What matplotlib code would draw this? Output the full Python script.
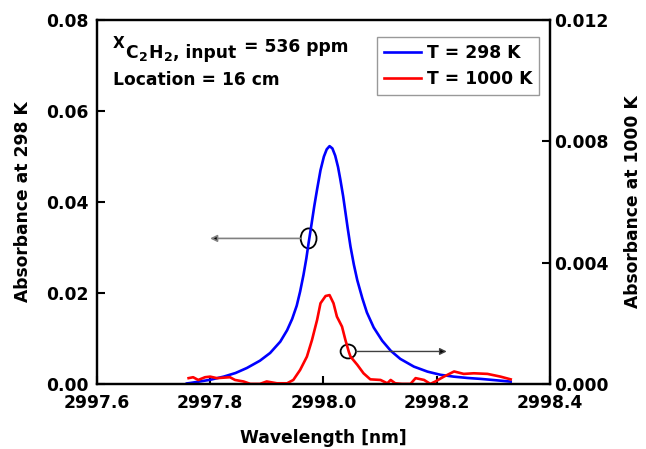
import matplotlib
matplotlib.use("Agg")
import matplotlib.pyplot as plt
from matplotlib.patches import Ellipse

plt.rcParams['font.family'] = ['DejaVu Sans']
plt.rcParams['font.weight'] = 'bold'

# absorbance profile at 298 K (left axis)
wl_298 = [2997.759, 2997.765, 2997.800, 2997.824, 2997.845, 2997.865, 2997.888,
          2997.906, 2997.924, 2997.936, 2997.945, 2997.953, 2997.959, 2997.965,
          2997.970, 2997.974, 2997.979, 2997.984, 2997.989, 2997.995, 2998.001,
          2998.006, 2998.011, 2998.016, 2998.021, 2998.026, 2998.030, 2998.035,
          2998.039, 2998.043, 2998.048, 2998.054, 2998.060, 2998.069, 2998.077,
          2998.089, 2998.104, 2998.119, 2998.136, 2998.160, 2998.184, 2998.207,
          2998.230, 2998.255, 2998.278, 2998.305, 2998.331]
abs_298 = [0.0001, 0.0002, 0.0009, 0.0016, 0.0024, 0.0035, 0.0051,
           0.0068, 0.0093, 0.0118, 0.0143, 0.0172, 0.0203, 0.0240,
           0.0276, 0.0310, 0.0350, 0.0391, 0.0428, 0.0470, 0.0500,
           0.0516, 0.0523, 0.0518, 0.0502, 0.0477, 0.0450, 0.0413,
           0.0378, 0.0343, 0.0302, 0.0262, 0.0228, 0.0188, 0.0157,
           0.0124, 0.0095, 0.0073, 0.0055, 0.0038, 0.0027, 0.0020,
           0.0016, 0.0013, 0.0011, 0.0008, 0.0005]

# absorbance profile at 1000 K (right axis)
wl_1000 = [2997.762, 2997.770, 2997.779, 2997.791, 2997.800, 2997.812, 2997.835,
           2997.844, 2997.859, 2997.871, 2997.888, 2997.900, 2997.918, 2997.936,
           2997.947, 2997.959, 2997.971, 2997.980, 2997.989, 2997.995, 2998.004,
           2998.011, 2998.018, 2998.024, 2998.033, 2998.039, 2998.045, 2998.048,
           2998.060, 2998.071, 2998.083, 2998.101, 2998.113, 2998.119, 2998.127,
           2998.139, 2998.154, 2998.163, 2998.178, 2998.189, 2998.198, 2998.213,
           2998.231, 2998.248, 2998.266, 2998.290, 2998.313, 2998.331]
abs_1000 = [0.00019, 0.00022, 0.00013, 0.00022, 0.00024, 0.00019, 0.00022,
            0.00013, 0.00008, 0.0, 0.0, 0.00008, 0.00002, 0.00002,
            0.00013, 0.00046, 0.00090, 0.00145, 0.00211, 0.00266, 0.00290,
            0.00293, 0.00266, 0.00222, 0.00189, 0.00145, 0.00106, 0.00090,
            0.00063, 0.00035, 0.00015, 0.00013, 0.00002, 0.00013, 0.00002,
            0.0, 0.0, 0.00019, 0.00013, 0.0, 0.00008, 0.00024,
            0.00041, 0.00033, 0.00035, 0.00033, 0.00024, 0.00015]

x_ticks = [2997.6, 2997.8, 2998.0, 2998.2, 2998.4]
left_ticks = [0.00, 0.02, 0.04, 0.06, 0.08]
right_ticks = [0.000, 0.004, 0.008, 0.012]

FS = 12.3

fig = plt.figure(figsize=(6.46, 4.49), dpi=100)
ax = fig.add_axes([0.150, 0.145, 0.701, 0.810])
ax2 = ax.twinx()

l1, = ax.plot(wl_298, abs_298, color='#0000ff', lw=1.9, label='T = 298 K')
l2, = ax2.plot(wl_1000, abs_1000, color='#ff0000', lw=1.9, label='T = 1000 K')

ax.set_xlim(2997.6, 2998.4)
ax.set_ylim(0, 0.08)
ax2.set_ylim(0, 0.012)
ax.set_xticks(x_ticks)
ax.set_xticklabels(['%.1f' % v for v in x_ticks])
ax.set_yticks(left_ticks)
ax.set_yticklabels(['%.2f' % v for v in left_ticks])
ax2.set_yticks(right_ticks)
ax2.set_yticklabels(['%.3f' % v for v in right_ticks])

ax.tick_params(axis='x', direction='in', length=6, width=1.5, pad=7, labelsize=FS)
ax.tick_params(axis='y', direction='in', length=6, width=1.5, pad=6, labelsize=FS)
ax2.tick_params(axis='y', direction='in', length=6, width=1.5, pad=3.5, labelsize=FS)
for a in (ax, ax2):
    for s in a.spines.values():
        s.set_linewidth(1.6)

ax.set_xlabel('Wavelength [nm]', fontsize=FS, fontweight='bold')
ax.set_ylabel('Absorbance at 298 K', fontsize=FS, fontweight='bold')
ax2.set_ylabel('Absorbance at 1000 K', fontsize=FS, fontweight='bold')
ax.xaxis.set_label_coords(0.5, -0.123)
ax.yaxis.set_label_coords(-0.1435, 0.5)
ax2.yaxis.set_label_coords(1.163, 0.5)

# mole fraction label, built piece by piece so the subscripts keep their size
pieces = [('X', 11.0, 0.923), ('C', FS, 0.8956), ('2', 9.0, 0.888),
          ('H', FS, 0.8956), ('2', 9.0, 0.888), (', input', FS, 0.8956),
          (' = 536 ppm', FS, 0.912)]
prev = ax.text(0.0353, pieces[0][2], pieces[0][0], transform=ax.transAxes,
               fontsize=pieces[0][1], fontweight='bold', va='baseline')
for s, size, yb in pieces[1:]:
    prev = ax.annotate(s, xy=(1, yb), xycoords=(prev, ax.transAxes),
                       xytext=(0.6, 0), textcoords='offset points',
                       fontsize=size, fontweight='bold', va='baseline', ha='left')
ax.text(0.0353, (384 - 85) / 364, 'Location = 16 cm', transform=ax.transAxes,
        fontsize=FS, fontweight='bold', va='baseline')

leg = ax.legend(handles=[l1, l2], loc='upper right', bbox_to_anchor=(0.976, 0.953),
                fontsize=FS, frameon=True, fancybox=False, edgecolor='#808080',
                handlelength=2.2, handletextpad=0.3, borderpad=0.4, labelspacing=0.45,
                borderaxespad=0)
leg.get_frame().set_linewidth(1.0)

# markers pointing each curve to its axis
ax.add_patch(Ellipse((2997.974, 0.0320), 0.028, 0.0044, fill=False, lw=1.3, color='black'))
ax.annotate('', xy=(2997.800, 0.0320), xytext=(2997.960, 0.0320),
            arrowprops=dict(arrowstyle='-|>', color='#808080', lw=1.2,
                            mutation_scale=10, shrinkA=0, shrinkB=0,
                            fc='black', ec='#808080'))
ax2.add_patch(Ellipse((2998.044, 0.00107), 0.027, 0.00046, fill=False, lw=1.3, color='black'))
ax2.annotate('', xy=(2998.218, 0.00107), xytext=(2998.058, 0.00107),
             arrowprops=dict(arrowstyle='-|>', color='#404040', lw=1.0,
                             mutation_scale=10, shrinkA=0, shrinkB=0,
                             fc='black', ec='#404040'))

fig.savefig('out.png', dpi=100)
